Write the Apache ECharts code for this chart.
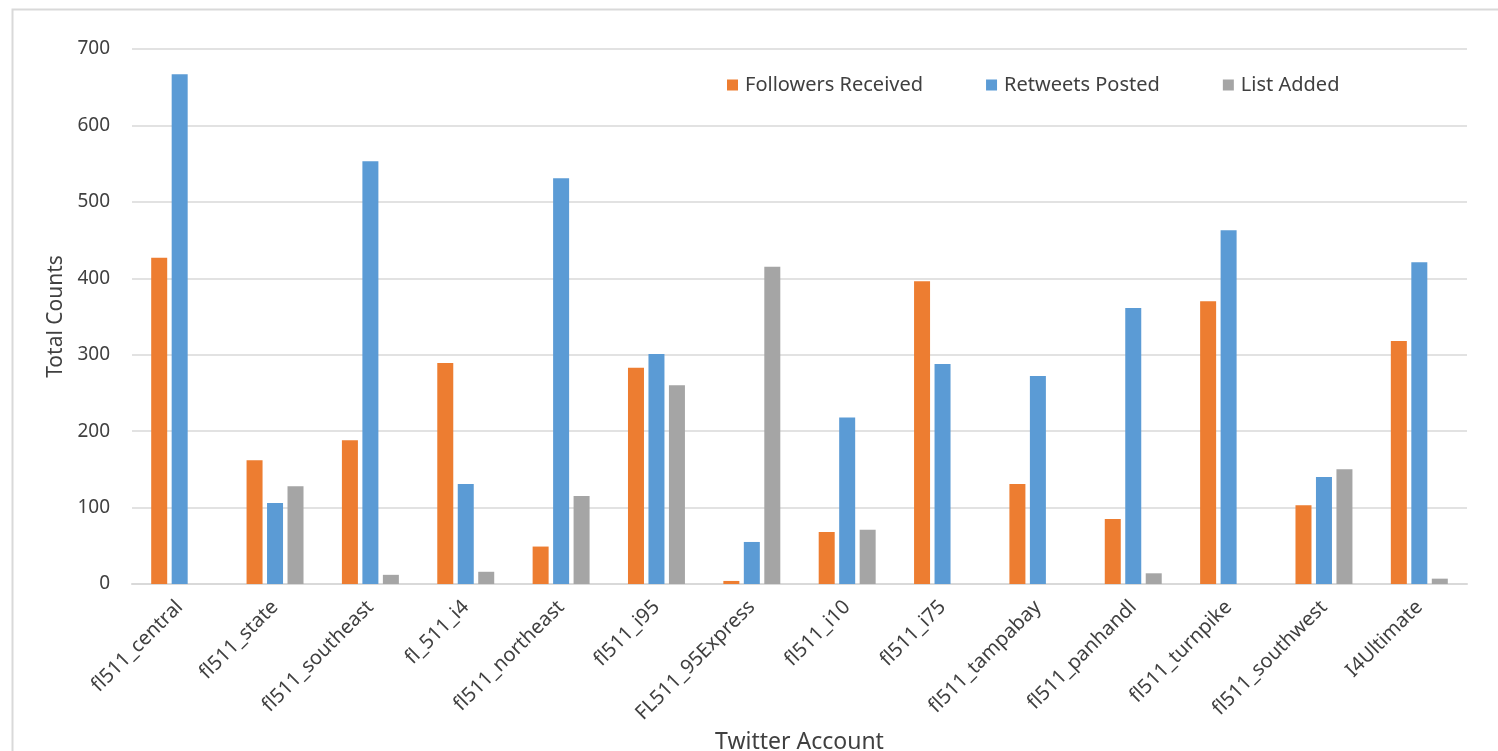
<!DOCTYPE html>
<html>
<head>
<meta charset="utf-8">
<script src="https://cdn.jsdelivr.net/npm/echarts@6/dist/echarts.min.js"></script>
<style>
  html, body { margin: 0; padding: 0; background: #fff; }
  #chart { width: 1498px; height: 751px; }
</style>
</head>
<body>
<div id="chart"></div>
<script>
const accounts = ['fl511_central', 'fl511_state', 'fl511_southeast', 'fl_511_i4', 'fl511_northeast',
  'fl511_i95', 'FL511_95Express', 'fl511_i10', 'fl511_i75', 'fl511_tampabay',
  'fl511_panhandl', 'fl511_turnpike', 'fl511_southwest', 'I4Ultimate']
const followersReceived = [427, 162, 188, 289, 49, 283, 4, 68, 396, 131, 85, 370, 103, 318]
const retweetsPosted = [667, 106, 553, 131, 531, 301, 55, 218, 288, 272, 361, 463, 140, 421]
const listAdded = [0, 128, 12, 16, 115, 260, 415, 71, 0, 0, 14, 0, 150, 7]
const yTicks = { min: 0, max: 700, interval: 100 }

const font = 'Noto Sans'
const textColor = '#404040'

const makeSeries = (name, data, color) => ({
  name: name,
  type: 'bar',
  data: data,
  barWidth: 16,
  barGap: '28%',
  itemStyle: { color: color }
})

var chartDom = document.getElementById('chart')
var myChart = echarts.init(chartDom, null, { renderer: 'canvas' })

const option = {
  animation: false,
  textStyle: { fontFamily: font },
  graphic: [{
    type: 'rect',
    left: 10, top: 7,
    shape: { width: 1500, height: 760 },
    style: { fill: 'none', stroke: '#d9d9d9', lineWidth: 2 },
    silent: true
  }],
  grid: { left: 132, right: 31, top: 49, bottom: 167, containLabel: false, outerBoundsMode: 'none' },
  legend: {
    top: 70,
    left: 722,
    itemWidth: 11,
    itemHeight: 11,
    itemGap: 63,
    icon: 'rect',
    textStyle: { fontFamily: font, fontSize: 20, color: textColor, padding: [0, 0, 0, 2] },
    data: ['Followers Received', 'Retweets Posted', 'List Added']
  },
  xAxis: {
    type: 'category',
    data: accounts,
    name: 'Twitter Account',
    nameLocation: 'middle',
    nameGap: 142,
    nameTextStyle: { fontFamily: font, fontSize: 23, color: textColor },
    axisLine: { lineStyle: { color: '#d9d9d9', width: 2 } },
    axisTick: { show: false },
    axisLabel: {
      rotate: 45,
      interval: 0,
      margin: 20,
      fontFamily: font,
      fontSize: 20,
      color: textColor
    }
  },
  yAxis: {
    type: 'value',
    min: yTicks.min,
    max: yTicks.max,
    interval: yTicks.interval,
    name: 'Total Counts',
    nameLocation: 'middle',
    nameGap: 64,
    nameTextStyle: { fontFamily: font, fontSize: 21, color: textColor },
    axisLine: { show: false },
    axisTick: { show: false },
    axisLabel: { margin: 22, fontFamily: font, fontSize: 19, color: textColor },
    splitLine: { lineStyle: { color: '#d9d9d9', width: 1.5 } }
  },
  series: [
    makeSeries('Followers Received', followersReceived, '#ED7D31'),
    makeSeries('Retweets Posted', retweetsPosted, '#5B9BD5'),
    makeSeries('List Added', listAdded, '#A5A5A5')
  ]
}

myChart.setOption(option)
</script>
</body>
</html>
